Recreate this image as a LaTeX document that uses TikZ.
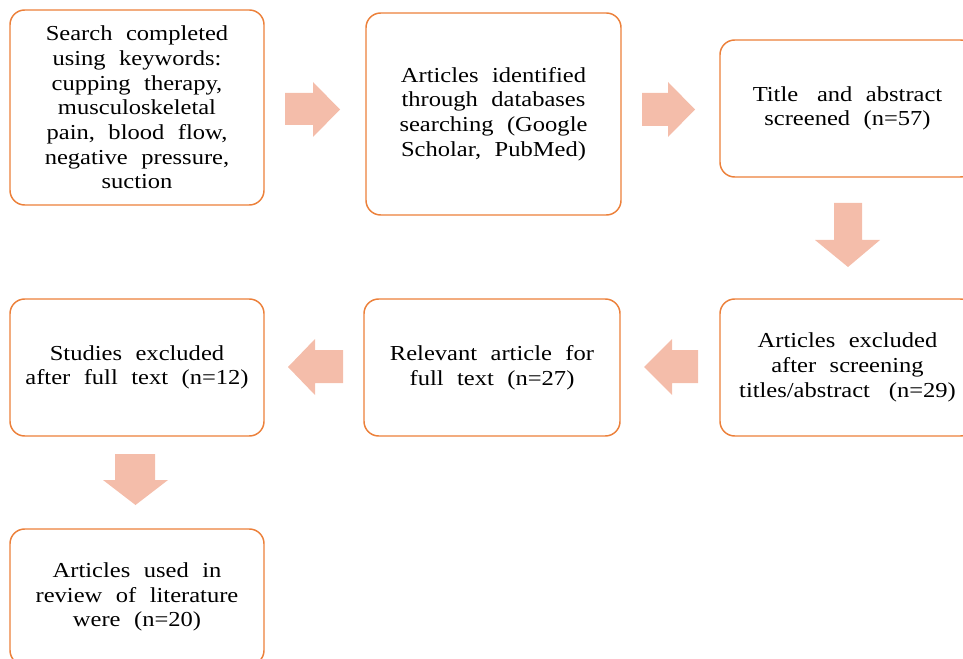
\documentclass[tikz,border=0pt]{standalone}
\usepackage{fontspec}
\setmainfont{Liberation Serif}[FakeStretch=1.15, WordSpace=2.2]
\definecolor{boxline}{RGB}{236,128,58}
\definecolor{arrfill}{RGB}{244,189,170}
\begin{document}
\begin{tikzpicture}[x=0.75pt,y=-0.75pt,
  box/.style={draw=boxline, line width=1.1pt, rounded corners=11pt, fill=white,
    align=center, inner sep=0pt, text=black,
    font=\fontsize{16}{18.5}\selectfont},
  blockarrow/.style={fill=arrfill, draw=none}]
\useasboundingbox (0,0) rectangle (963,659);
% boxes
\node[box, minimum width=190.5pt, minimum height=146.25pt] (b1) at (137,107.5)
  {Search completed\\using keywords:\\cupping therapy,\\musculoskeletal\\pain, blood flow,\\negative pressure,\\suction};
\node[box, minimum width=191.25pt, minimum height=151.5pt] (b2) at (493.5,114)
  {Articles identified\\through databases\\searching (Google\\Scholar, PubMed)};
\node[box, minimum width=191.25pt, minimum height=102.75pt] (b3) at (847.5,108.5)
  {Title\hspace{0.25em} and abstract\\screened (n=57)};
\node[box, minimum width=191.25pt, minimum height=102.75pt] (b4) at (847.5,367.5)
  {Articles excluded\\after screening\\titles/abstract\hspace{0.25em} (n=29)};
\node[box, minimum width=192pt, minimum height=102.75pt] (b5) at (492,367.5)
  {Relevant article for\\full text (n=27)};
\node[box, minimum width=190.5pt, minimum height=102.75pt] (b6) at (137,367.5)
  {Studies excluded\\after full text (n=12)};
\node[box, minimum width=190.5pt, minimum height=102pt] (b7) at (137,597)
  {Articles used in\\review of literature\\were (n=20)};
% block arrows
\fill[blockarrow] (285,93) -- (313,93) -- (313,82) -- (340,109.5) -- (313,137) -- (313,125) -- (285,125) -- cycle;
\fill[blockarrow] (642,93) -- (668,93) -- (668,82) -- (695,109.5) -- (668,137) -- (668,126) -- (642,126) -- cycle;
\fill[blockarrow] (834,203) -- (862,203) -- (862,240) -- (880,240) -- (848,267) -- (815,240) -- (834,240) -- cycle;
\fill[blockarrow] (698,350) -- (672,350) -- (672,339) -- (644,367) -- (672,395) -- (672,383) -- (698,383) -- cycle;
\fill[blockarrow] (343,350) -- (315,350) -- (315,339) -- (288,367) -- (315,395) -- (315,383) -- (343,383) -- cycle;
\fill[blockarrow] (115,454) -- (155,454) -- (155,480) -- (168,480) -- (135.5,505) -- (103,480) -- (115,480) -- cycle;
\end{tikzpicture}
\end{document}
